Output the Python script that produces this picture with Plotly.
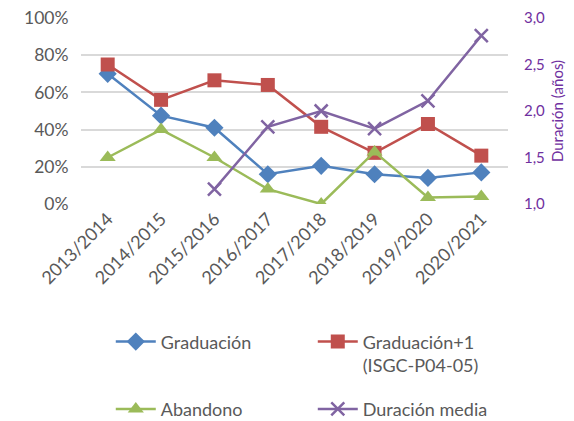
import plotly.graph_objects as go

# Academic years
cursos = ["2013/2014", "2014/2015", "2015/2016", "2016/2017",
          "2017/2018", "2018/2019", "2019/2020", "2020/2021"]

# Rates (fractions)
graduacion = [0.70, 0.475, 0.41, 0.16, 0.205, 0.16, 0.14, 0.17]
graduacion_mas1 = [0.75, 0.56, 0.665, 0.64, 0.415, 0.275, 0.43, 0.26]
abandono = [0.25, 0.40, 0.25, 0.08, 0.0, 0.28, 0.035, 0.04]

# Mean duration in years (right axis)
duracion_media = [None, None, 1.16, 1.83, 2.0, 1.81, 2.11, 2.81]

FONT = "Lato"
GREY = "#595959"
PURPLE = "#7030A0"

fig = go.Figure()

fig.add_trace(go.Scatter(
    x=cursos, y=graduacion, name="Graduación", mode="lines+markers",
    legend="legend",
    line=dict(color="#4F81BD", width=2.5),
    marker=dict(symbol="diamond", size=14, color="#4F81BD")))

fig.add_trace(go.Scatter(
    x=cursos, y=graduacion_mas1, name="Graduación+1<br>(ISGC-P04-05)",
    mode="lines+markers", legend="legend",
    line=dict(color="#C0504D", width=2.5),
    marker=dict(symbol="square", size=14, color="#C0504D")))

fig.add_trace(go.Scatter(
    x=cursos, y=abandono, name="Abandono", mode="lines+markers",
    legend="legend2",
    line=dict(color="#9BBB59", width=2.5),
    marker=dict(symbol="triangle-up", size=14, color="#9BBB59")))

fig.add_trace(go.Scatter(
    x=cursos, y=duracion_media, name="Duración media", mode="lines+markers",
    yaxis="y2", legend="legend2",
    line=dict(color="#8064A2", width=2.5),
    marker=dict(symbol="x-thin", size=13,
                line=dict(color="#8064A2", width=2.5), color="#8064A2")))

legend_common = dict(
    orientation="h", xanchor="left", yanchor="top",
    xref="container", yref="container",
    entrywidth=147, entrywidthmode="pixels",
    font=dict(size=18, color=GREY), itemwidth=40,
    valign="top", bgcolor="rgba(0,0,0,0)")

fig.update_layout(
    width=574, height=421,
    margin=dict(l=81, r=66, t=18, b=217),
    paper_bgcolor="white", plot_bgcolor="white",
    font=dict(family=FONT, size=17, color=GREY),
    xaxis=dict(
        type="category", range=[-0.5, 7.5], tickangle=-45,
        showgrid=False, showline=False, ticks="", automargin=False,
        tickfont=dict(size=18, color=GREY)),
    yaxis=dict(
        range=[0, 1], dtick=0.2, tickformat=".0%", automargin=False,
        gridcolor="#D9D9D9", gridwidth=1.5, zeroline=False,
        showline=False, ticks="outside", ticklen=8,
        tickcolor="rgba(0,0,0,0)",
        tickfont=dict(size=17.5, color=GREY)),
    yaxis2=dict(
        overlaying="y", side="right", range=[1.0, 3.0], dtick=0.5,
        tickformat=".1f", automargin=False,
        showgrid=False, zeroline=False, showline=False,
        ticks="outside", ticklen=12, tickcolor="rgba(0,0,0,0)",
        tickfont=dict(size=15, color=PURPLE),
        title=dict(text="Duración (años)", font=dict(size=15, color=PURPLE),
                   standoff=8)),
    separators=",.",
    showlegend=True,
    legend=dict(x=0.193, y=0.232, **legend_common),
    legend2=dict(x=0.193, y=0.072, **legend_common),
)

fig.write_html("out.html")
